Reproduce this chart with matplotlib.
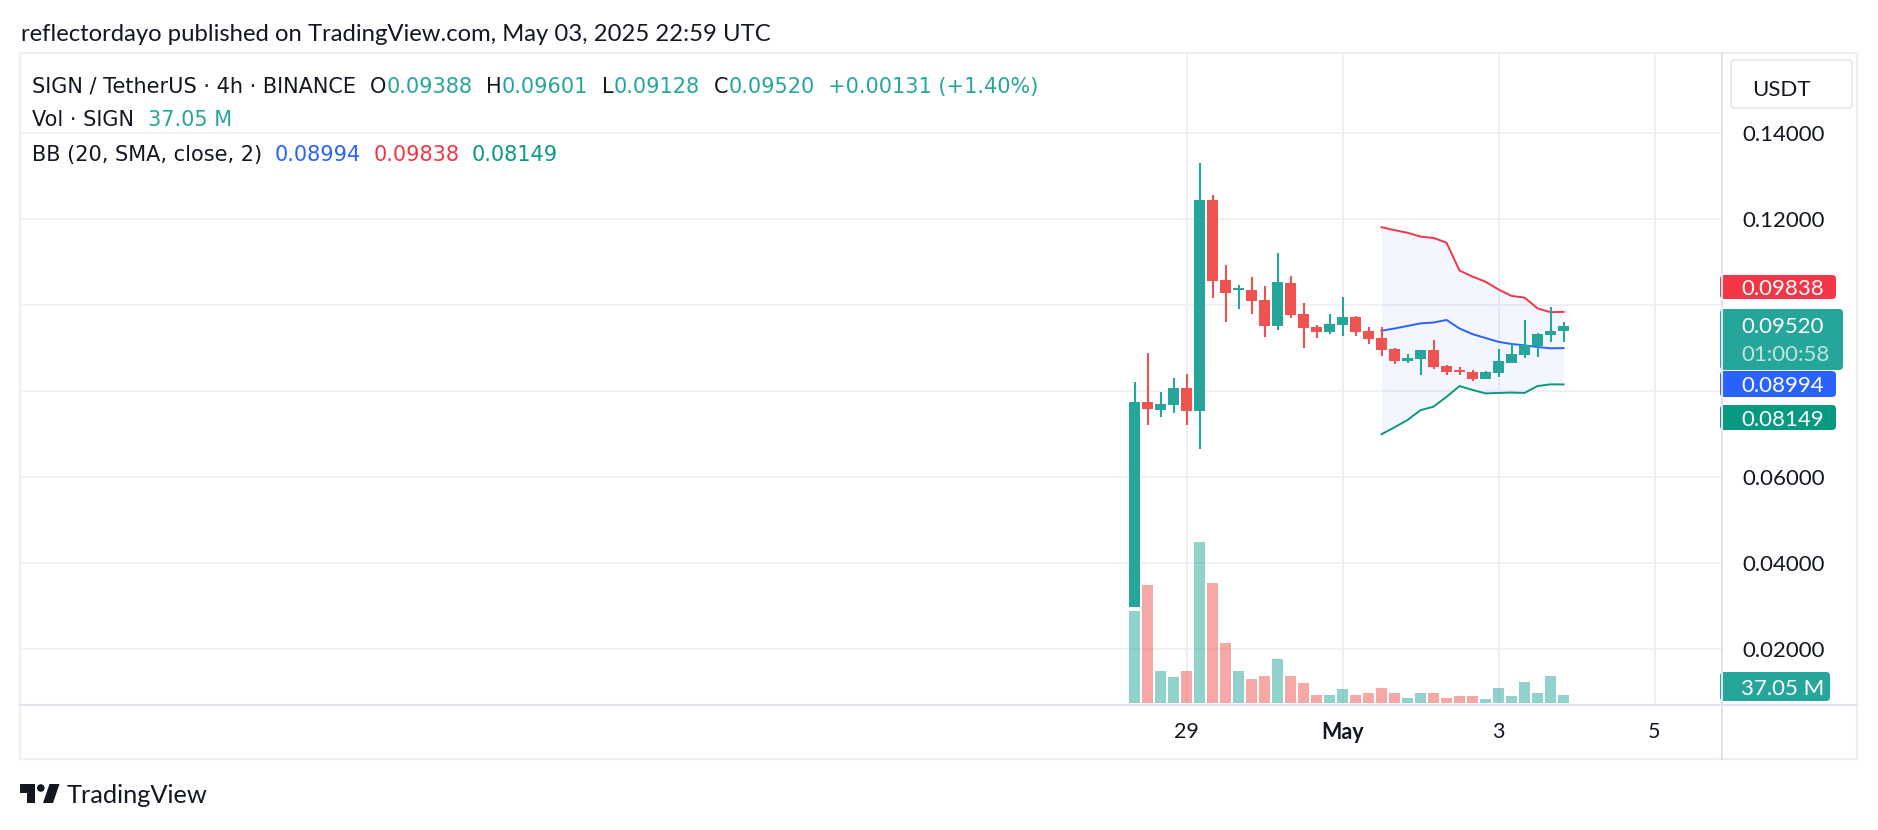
import matplotlib.pyplot as plt
from matplotlib.patches import FancyBboxPatch, Polygon, Circle
from matplotlib.lines import Line2D
from matplotlib.text import Annotation
from matplotlib.transforms import IdentityTransform
import numpy as np

plt.rcParams['font.family'] = ['Lato', 'DejaVu Sans']
HEAD_FONT = ['DejaVu Sans']

# ---- data: SIGN/USDT 4h candles, Apr 28 08:00 -> May 3 20:00 UTC ----
opens = [0.0297, 0.0774, 0.0755, 0.0767, 0.0806, 0.0753, 0.1244, 0.1058, 0.1034, 0.1035,
         0.1011, 0.0951, 0.1051, 0.0979, 0.0948, 0.0937, 0.0954, 0.0972, 0.0939, 0.0923,
         0.0897, 0.0870, 0.0875, 0.0895, 0.0858, 0.0849, 0.0844, 0.0828, 0.0842, 0.0865,
         0.0884, 0.0905, 0.0930, 0.09388]
highs = [0.0820, 0.0889, 0.0797, 0.0830, 0.0839, 0.1330, 0.1256, 0.1093, 0.1046, 0.1065,
         0.1044, 0.1121, 0.1067, 0.1004, 0.0953, 0.0979, 0.1018, 0.0974, 0.0948, 0.0948,
         0.0899, 0.0886, 0.0895, 0.0918, 0.0861, 0.0856, 0.0848, 0.0847, 0.0897, 0.0910,
         0.0965, 0.0934, 0.0995, 0.09601]
lows = [0.0297, 0.0720, 0.0739, 0.0749, 0.0720, 0.0665, 0.1017, 0.0961, 0.0991, 0.0979,
        0.0926, 0.0942, 0.0970, 0.0900, 0.0923, 0.0933, 0.0928, 0.0928, 0.0910, 0.0882,
        0.0863, 0.0865, 0.0837, 0.0851, 0.0837, 0.0837, 0.0823, 0.0828, 0.0833, 0.0865,
        0.0877, 0.0879, 0.0914, 0.09128]
closes = [0.0774, 0.0758, 0.0769, 0.0806, 0.0753, 0.1244, 0.1056, 0.1028, 0.1037, 0.1010,
          0.0951, 0.1053, 0.0977, 0.0947, 0.0937, 0.0955, 0.0972, 0.0937, 0.0921, 0.0896,
          0.0870, 0.0877, 0.0895, 0.0856, 0.0844, 0.0844, 0.0828, 0.0844, 0.0869, 0.0886,
          0.0907, 0.0932, 0.09388, 0.09520]
volume_m = [441, 566, 152, 124, 152, 773, 576, 287, 152, 114,
            128, 210, 128, 95, 37, 37, 66, 37, 47, 71,
            47, 23, 47, 47, 23, 32, 32, 18, 71, 32,
            100, 47, 128, 37.05]

# Bollinger Bands (20, SMA, close, 2), first value at candle 19
bb_start = 19
bb_upper = [0.1181, 0.1174, 0.1168, 0.1159, 0.1156, 0.1145, 0.1080, 0.1066, 0.1054, 0.1036,
            0.1021, 0.1017, 0.0992, 0.0983, 0.09838]
bb_basis = [0.0940, 0.0945, 0.0951, 0.0957, 0.0959, 0.0965, 0.0945, 0.0932, 0.0923, 0.0914,
            0.0909, 0.0906, 0.0902, 0.0899, 0.08994]
bb_lower = [0.0699, 0.0715, 0.0732, 0.0755, 0.0763, 0.0786, 0.0811, 0.0802, 0.0794, 0.0795,
            0.0796, 0.0795, 0.0811, 0.0815, 0.08149]

date_ticks = [4, 16, 28, 40]
date_labels = ["29", "May", "3", "5"]
price_ticks = [0.02, 0.04, 0.06, 0.08, 0.10, 0.12, 0.14]
hidden_ticks = [0.08, 0.10]   # covered by the value tags

UP = "#26a69a"
DOWN = "#ef5350"
TXT = "#131722"
GRID = "#f0f0f2"
SEP = "#e0e3eb"

W, H = 1878, 830
fig = plt.figure(figsize=(W / 100, H / 100), dpi=100)
fig.patch.set_facecolor("white")


def fx(x):
    return x / W


def fy(y):
    return 1 - y / H


# plot area (pixels): x 20..1721, y 54..705
left, right, top, bottom = 20, 1721, 54, 705
rect = [fx(left), fy(bottom), fx(right) - fx(left), fy(top) - fy(bottom)]
ax = fig.add_axes(rect)
ax_vol = fig.add_axes(rect, sharex=ax)

n = len(opens)
x = np.arange(n)
o = np.array(opens)
c = np.array(closes)
up = c >= o
cols = np.where(up, UP, DOWN)

# candles
ax.vlines(x, lows, highs, colors=cols, linewidth=1.5, zorder=3)
body_lo = np.minimum(o, c)
body_h = np.maximum(np.abs(c - o), 0.0005)
ax.bar(x, body_h, bottom=body_lo, width=0.77, color=cols, linewidth=0, zorder=4)

# Bollinger bands
xb = np.arange(bb_start, bb_start + len(bb_basis))
ax.fill_between(xb, bb_lower, bb_upper, color="#2962ff", alpha=0.05, linewidth=0, zorder=1)
ax.plot(xb, bb_upper, color="#f23645", linewidth=1.4, zorder=2)
ax.plot(xb, bb_basis, color="#2962ff", linewidth=1.4, zorder=2)
ax.plot(xb, bb_lower, color="#089981", linewidth=1.4, zorder=2)

px_per_bar = 13.0
ax.set_xlim((left - 1134.5) / px_per_bar, (right - 1134.5) / px_per_bar)
ax.set_ylim(0.00685, 0.15842)

ax.set_yticks(price_ticks)
ax.set_yticklabels(["" if p in hidden_ticks else "%.5f" % p for p in price_ticks])
ax.yaxis.tick_right()
ax.tick_params(axis="y", length=0, pad=15.5, labelsize=16, labelcolor=TXT)
ax.set_xticks(date_ticks)
ax.set_xticklabels(date_labels)
ax.tick_params(axis="x", length=0, pad=12, labelsize=15.5, labelcolor=TXT)
ax.get_xticklabels()[1].set_fontweight("bold")
ax.grid(True, color=GRID, linewidth=1.4)
ax.set_axisbelow(True)
for s in ax.spines.values():
    s.set_visible(False)

# volume
vol_cols = np.where(up, UP, DOWN)
ax_vol.bar(x, volume_m, width=0.85, color=vol_cols, alpha=0.5, linewidth=0)
ax_vol.set_ylim(-11, 3120)
ax_vol.patch.set_visible(False)
ax_vol.axis("off")

# frame and separators (figure pixels)
def hline(y, x0, x1, color, lw):
    fig.add_artist(Line2D([fx(x0), fx(x1)], [fy(y), fy(y)], color=color, linewidth=lw))


def vline(xp, y0, y1, color, lw):
    fig.add_artist(Line2D([fx(xp), fx(xp)], [fy(y0), fy(y1)], color=color, linewidth=lw))


hline(53, 20, 1857, "#eeeff2", 1.5)
hline(759, 20, 1857, "#eeeff2", 1.5)
vline(20, 53, 759, "#eeeff2", 1.5)
vline(1857, 53, 759, "#eeeff2", 1.5)
hline(705, 20, 1857, SEP, 1.5)
vline(1722, 53, 759, SEP, 1.5)


def tag(x0, y0, x1, y1, color, ec="none"):
    p = FancyBboxPatch((x0, H - y1), x1 - x0, y1 - y0,
                       boxstyle="round,pad=0,rounding_size=4",
                       transform=IdentityTransform(), facecolor=color, edgecolor=ec, linewidth=1)
    fig.add_artist(p)


# value tags on the price scale
TAG_FS = 16
tag(1720, 275, 1836, 299, "#f23645")
fig.text(fx(1741), fy(287), "0.09838", color="white", fontsize=TAG_FS, va="center_baseline")
tag(1720, 309, 1843, 370, UP)
fig.text(fx(1741), fy(325), "0.09520", color="white", fontsize=TAG_FS, va="center_baseline")
fig.text(fx(1741), fy(353), "01:00:58", color="white", alpha=0.7, fontsize=TAG_FS, va="center_baseline")
tag(1720, 371, 1836, 397, "#2962ff")
fig.text(fx(1741), fy(384), "0.08994", color="white", fontsize=TAG_FS, va="center_baseline")
tag(1720, 405, 1836, 430, "#089981")
fig.text(fx(1741), fy(418), "0.08149", color="white", fontsize=TAG_FS, va="center_baseline")
tag(1720, 672, 1830, 701, UP)
fig.text(fx(1741), fy(687), "37.05 M", color="white", fontsize=TAG_FS, va="center_baseline")

# currency button
tag(1731, 60, 1852, 108, "white", ec=SEP)
fig.text(fx(1781), fy(87.5), "USDT", color=TXT, fontsize=16, ha="center", va="center_baseline")

# title
fig.text(fx(21), fy(40.7), "reflectordayo published on TradingView.com, May 03, 2025 22:59 UTC",
         color=TXT, fontsize=17.2, va="baseline")


def chain(xp, yp, parts, size=15):
    yf = fy(yp)
    t = fig.text(fx(xp), yf, parts[0][0], color=parts[0][1], fontsize=size, va="baseline",
                 family=HEAD_FONT)
    for s, col, gap in parts[1:]:
        a = Annotation(s, xy=(1, yf), xycoords=(t, "figure fraction"), xytext=(gap, 0),
                       textcoords="offset points", color=col, fontsize=size, va="baseline",
                       family=HEAD_FONT)
        fig.add_artist(a)
        t = a


chain(32, 93, [("SIGN / TetherUS · 4h · BINANCE", TXT, 0), ("O", TXT, 10), ("0.09388", UP, 0),
               ("H", TXT, 10), ("0.09601", UP, 0), ("L", TXT, 10), ("0.09128", UP, 0),
               ("C", TXT, 10), ("0.09520", UP, 0), ("+0.00131 (+1.40%)", UP, 10)])
chain(32, 126, [("Vol · SIGN", TXT, 0), ("37.05 M", UP, 10)])
chain(32, 161, [("BB (20, SMA, close, 2)", TXT, 0), ("0.08994", "#2962ff", 9),
                ("0.09838", "#f23645", 9), ("0.08149", "#089981", 9)])

# TradingView logo
fig.add_artist(Polygon([(20, H - 784), (35, H - 784), (35, H - 803), (27, H - 803), (27, H - 792.5),
                        (20, H - 792.5)], closed=True, transform=IdentityTransform(),
                       facecolor=TXT, edgecolor="none"))
fig.add_artist(Circle((40.8, H - 788), 3.8, transform=IdentityTransform(), facecolor=TXT, edgecolor="none"))
fig.add_artist(Polygon([(49.5, H - 784), (59.5, H - 784), (53, H - 803), (43, H - 803)], closed=True,
                       transform=IdentityTransform(), facecolor=TXT, edgecolor="none"))
fig.text(fx(67), fy(803), "TradingView", color=TXT, fontsize=18.3, va="baseline")

fig.savefig("out.png", dpi=100, facecolor="white")
